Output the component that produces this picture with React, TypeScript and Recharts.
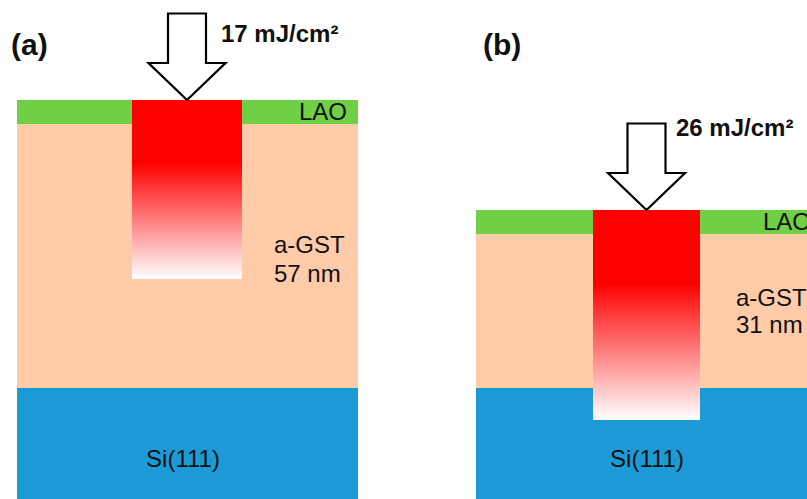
import React from 'react';
import { ComposedChart, XAxis, YAxis, ReferenceArea, Scatter } from 'recharts';

const WIDTH = 807;
const HEIGHT = 499;

// Two film stacks under pulsed-laser exposure
const panelLabels = ['(a)', '(b)'];
const fluences = [17, 26]; // mJ/cm²
const gstThicknessNm = [57, 31];
const layerNames = ['Si(111)', 'a-GST', 'LAO'];

// Drawn layer heights in schematic units (not to scale)
const siHeight = [111, 111];
const gstHeight = [264, 154];
const laoHeight = [24, 24];
// Depth of the heated zone below the LAO surface
const heatedDepth = [179, 210];

const COLORS = {
  si: '#1b9ad6',
  gst: '#ffcba9',
  lao: '#6fcf45',
  hot: '#ff0000',
  text: '#111111',
};

const FONT = '"Liberation Sans", Arial, sans-serif';

// Horizontal placement of each panel and its annotations
const layout = [
  {
    left: 17, right: 358, spotLeft: 132, spotRight: 242,
    panelLabel: [11, 55], fluenceLabel: [221, 42], laoLabel: [299, 120],
    gstLabel: [274, 253, 282], siLabel: [183, 467],
  },
  {
    left: 476, right: 840, spotLeft: 593, spotRight: 700,
    panelLabel: [483, 55], fluenceLabel: [676, 136], laoLabel: [763, 230],
    gstLabel: [736, 306, 333], siLabel: [647, 467],
  },
];

const toY = (py: number) => HEIGHT - py;

type Note = { x: number; y: number; text: string; size: number; bold?: boolean; anchor?: string };

const notes: Note[] = [];
layout.forEach((p, i) => {
  notes.push({ x: p.panelLabel[0], y: toY(p.panelLabel[1]), text: panelLabels[i], size: 30, bold: true });
  notes.push({ x: p.fluenceLabel[0], y: toY(p.fluenceLabel[1]), text: `${fluences[i]} mJ/cm²`, size: 24, bold: true });
  notes.push({ x: p.laoLabel[0], y: toY(p.laoLabel[1]), text: layerNames[2], size: 24 });
  notes.push({ x: p.gstLabel[0], y: toY(p.gstLabel[1]), text: layerNames[1], size: 24 });
  notes.push({ x: p.gstLabel[0], y: toY(p.gstLabel[2]), text: `${gstThicknessNm[i]} nm`, size: 24 });
  notes.push({ x: p.siLabel[0], y: toY(p.siLabel[1]), text: layerNames[0], size: 24, anchor: 'middle' });
});

const arrows = layout.map((p, i) => ({
  x: (p.spotLeft + p.spotRight) / 2,
  y: siHeight[i] + gstHeight[i] + laoHeight[i],
}));

const NoteText = (props: any) => {
  const { cx, cy, payload } = props;
  if (cx == null || cy == null) return null;
  return (
    <text
      x={cx}
      y={cy}
      fontFamily={FONT}
      fontSize={payload.size}
      fontWeight={payload.bold ? 700 : 400}
      fill={COLORS.text}
      textAnchor={payload.anchor || 'start'}
    >
      {payload.text}
    </text>
  );
};

// Hollow block arrow whose tip sits on the film surface
const BlockArrow = (props: any) => {
  const { cx, cy } = props;
  if (cx == null || cy == null) return null;
  const shaft = 19;
  const head = 38.5;
  const headLen = 37;
  const total = 86.5;
  const pts = [
    [cx - shaft, cy - total],
    [cx + shaft, cy - total],
    [cx + shaft, cy - headLen],
    [cx + head, cy - headLen],
    [cx, cy],
    [cx - head, cy - headLen],
    [cx - shaft, cy - headLen],
  ]
    .map((q) => q.join(','))
    .join(' ');
  return <polygon points={pts} fill="#ffffff" stroke="#000000" strokeWidth={2.2} strokeLinejoin="miter" />;
};

export default function App() {
  return (
    <div style={{ position: 'absolute', left: 0, top: 0, width: WIDTH, height: HEIGHT, overflow: 'hidden', background: '#fff' }}>
      <ComposedChart width={WIDTH} height={HEIGHT} margin={{ top: 0, right: 0, bottom: 0, left: 0 }}>
        <defs>
          <linearGradient id="heatFade" x1="0" y1="0" x2="0" y2="1">
            <stop offset="0" stopColor={COLORS.hot} />
            <stop offset="0.35" stopColor={COLORS.hot} />
            <stop offset="1" stopColor="#ffffff" />
          </linearGradient>
        </defs>
        <XAxis type="number" dataKey="x" domain={[0, WIDTH]} hide allowDataOverflow />
        <YAxis type="number" dataKey="y" domain={[0, HEIGHT]} hide allowDataOverflow />

        {layout.map((p, i) => {
          const siTop = siHeight[i];
          const gstTop = siTop + gstHeight[i];
          const laoTop = gstTop + laoHeight[i];
          return [
            <ReferenceArea key={`si${i}`} x1={p.left} x2={p.right} y1={0} y2={siTop} fill={COLORS.si} fillOpacity={1} stroke="none" ifOverflow="visible" />,
            <ReferenceArea key={`gst${i}`} x1={p.left} x2={p.right} y1={siTop} y2={gstTop} fill={COLORS.gst} fillOpacity={1} stroke="none" ifOverflow="visible" />,
            <ReferenceArea key={`lao${i}`} x1={p.left} x2={p.right} y1={gstTop} y2={laoTop} fill={COLORS.lao} fillOpacity={1} stroke="none" ifOverflow="visible" />,
            <ReferenceArea key={`hot${i}`} x1={p.spotLeft} x2={p.spotRight} y1={laoTop - heatedDepth[i]} y2={laoTop} fill="url(#heatFade)" fillOpacity={1} stroke="none" ifOverflow="visible" />,
          ];
        })}

        <Scatter data={arrows} dataKey="y" shape={BlockArrow} isAnimationActive={false} />
        <Scatter data={notes} dataKey="y" shape={NoteText} isAnimationActive={false} />
      </ComposedChart>
    </div>
  );
}
